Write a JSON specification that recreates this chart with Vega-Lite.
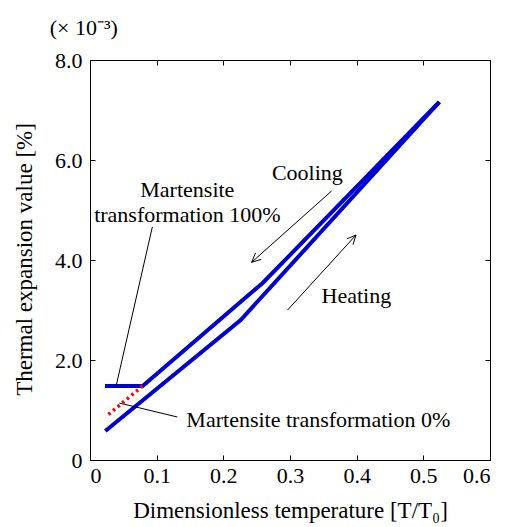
{
  "$schema": "https://vega.github.io/schema/vega-lite/v6.json",
  "width": 400,
  "height": 400,
  "autosize": "none",
  "padding": {"left": 90, "top": 60, "right": 17, "bottom": 67},
  "background": "white",
  "config": {
    "view": {"stroke": null},
    "font": "Liberation Serif",
    "axis": {
      "grid": false,
      "domainColor": "black",
      "domainWidth": 1,
      "tickColor": "black",
      "tickWidth": 1,
      "labelFont": "Liberation Serif",
      "titleFont": "Liberation Serif",
      "labelFontSize": 22,
      "titleFontSize": 23,
      "labelColor": "black",
      "titleColor": "black",
      "titleFontWeight": "normal"
    }
  },
  "datasets": {
    "curves": [
      {"series": "heating", "order": 1, "t": 0.023, "v": 0.58},
      {"series": "heating", "order": 2, "t": 0.226, "v": 2.80},
      {"series": "heating", "order": 3, "t": 0.524, "v": 7.16},
      {"series": "cooling", "order": 1, "t": 0.524, "v": 7.16},
      {"series": "cooling", "order": 2, "t": 0.259, "v": 3.54},
      {"series": "cooling", "order": 3, "t": 0.079, "v": 1.48},
      {"series": "cooling", "order": 4, "t": 0.0225, "v": 1.48}
    ],
    "dotted": [
      {"order": 1, "t": 0.079, "v": 1.48},
      {"order": 2, "t": 0.024, "v": 0.87}
    ],
    "segments": [
      {"x": 0.3624, "y": 5.38, "x2": 0.2424, "y2": 3.954},
      {"x": 0.2424, "y": 3.954, "x2": 0.2568, "y2": 4.012},
      {"x": 0.2424, "y": 3.954, "x2": 0.2482, "y2": 4.138},
      {"x": 0.2964, "y": 3.0, "x2": 0.399, "y2": 4.5},
      {"x": 0.399, "y": 4.5, "x2": 0.3852, "y2": 4.422},
      {"x": 0.399, "y": 4.5, "x2": 0.3945, "y2": 4.308},
      {"x": 0.0935, "y": 4.66, "x2": 0.0395, "y2": 1.5},
      {"x": 0.044, "y": 1.14, "x2": 0.131, "y2": 0.86}
    ],
    "labels": [
      {"label": "Cooling", "x": 0.326, "y": 5.74},
      {"label": "Heating", "x": 0.3995, "y": 3.28},
      {"label": "Martensite", "x": 0.146, "y": 5.4},
      {"label": "transformation 100%", "x": 0.146, "y": 4.9},
      {"label": "Martensite transformation 0%", "x": 0.3425, "y": 0.8},
      {"label": "(× 10⁻³)", "x": -0.0093, "y": 8.64}
    ]
  },
  "resolve": {"axis": {"x": "independent", "y": "independent"}},
  "layer": [
    {
      "data": {"name": "curves"},
      "mark": {"type": "line", "strokeWidth": 4, "color": "#0000d0", "strokeCap": "butt"},
      "encoding": {
        "x": {
          "field": "t", "type": "quantitative",
          "scale": {"domain": [0, 0.6], "nice": false},
          "axis": {
            "orient": "bottom",
            "values": [0, 0.1, 0.2, 0.3, 0.4, 0.5, 0.6],
            "tickSize": -5,
            "labelPadding": 10,
            "labelExpr": "datum.value == 0 ? '0' : format(datum.value, '.1f')",
            "title": "Dimensionless temperature [T/T₀]",
            "titleX": 200,
            "titleY": 50,
            "titleBaseline": "middle",
            "titleAnchor": "middle"
          }
        },
        "y": {
          "field": "v", "type": "quantitative",
          "scale": {"domain": [0, 8], "nice": false},
          "axis": {
            "orient": "left",
            "values": [0, 2, 4, 6, 8],
            "tickSize": -5,
            "labelPadding": 13,
            "labelExpr": "datum.value == 0 ? '0' : format(datum.value, '.1f')",
            "title": "Thermal expansion value [%]",
            "titleX": -66,
            "titleY": 199,
            "titleAngle": -90,
            "titleBaseline": "middle",
            "titleAnchor": "middle"
          }
        },
        "detail": {"field": "series"},
        "order": {"field": "order", "type": "quantitative"}
      }
    },
    {
      "data": {"name": "segments"},
      "mark": {"type": "rule", "color": "black", "strokeWidth": 1},
      "encoding": {
        "x": {
          "field": "x", "type": "quantitative",
          "axis": {"orient": "top", "values": [0, 0.1, 0.2, 0.3, 0.4, 0.5, 0.6], "tickSize": -5, "labels": false, "title": null}
        },
        "y": {
          "field": "y", "type": "quantitative",
          "axis": {"orient": "right", "values": [0, 2, 4, 6, 8], "tickSize": -5, "labels": false, "title": null}
        },
        "x2": {"field": "x2"},
        "y2": {"field": "y2"}
      }
    },
    {
      "data": {"name": "dotted"},
      "mark": {"type": "line", "color": "#ff0000", "strokeWidth": 3.5, "strokeDash": [2.5, 3.5], "strokeCap": "butt"},
      "encoding": {
        "x": {"field": "t", "type": "quantitative", "axis": null},
        "y": {"field": "v", "type": "quantitative", "axis": null},
        "order": {"field": "order", "type": "quantitative"}
      }
    },
    {
      "data": {"name": "labels"},
      "mark": {"type": "text", "font": "Liberation Serif", "fontSize": 22, "color": "black", "align": "center", "baseline": "middle", "clip": false},
      "encoding": {
        "x": {"field": "x", "type": "quantitative", "axis": null},
        "y": {"field": "y", "type": "quantitative", "axis": null},
        "text": {"field": "label"}
      }
    }
  ]
}
